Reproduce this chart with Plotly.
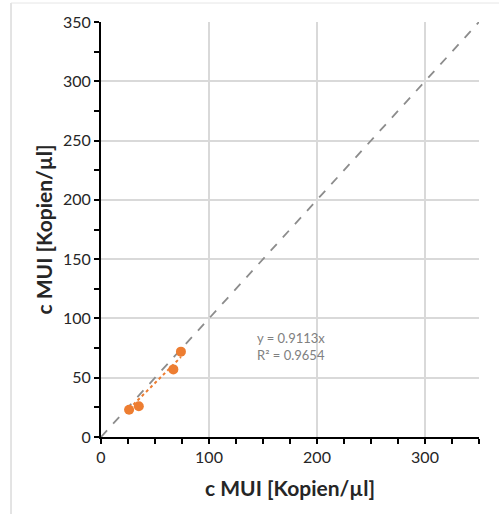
import plotly.graph_objects as go

x_vals = [26, 35, 67, 74]
y_vals = [23, 26, 57, 72]
slope = 0.9113
r2 = 0.9654
ident = [0, 350]

W, H = 499, 514
L, R, T, B = 101, 20, 22, 77

fig = go.Figure()
fig.add_trace(go.Scatter(x=ident, y=ident, mode="lines",
                         line=dict(color="#8c8c8c", width=1.8, dash="dash"), hoverinfo="skip"))
tx = [min(x_vals), max(x_vals)]
fig.add_trace(go.Scatter(x=tx, y=[slope * v for v in tx], mode="lines",
                         line=dict(color="#ED7D31", width=2, dash="dot"), hoverinfo="skip"))
fig.add_trace(go.Scatter(x=x_vals, y=y_vals, mode="markers",
                         marker=dict(color="#ED7D31", size=10)))

fig.add_annotation(x=143, y=76, xref="x", yref="y", xanchor="left", yanchor="middle",
                   text=f"y = {slope}x<br>R² = {r2}", showarrow=False, align="left",
                   font=dict(family="Lato", size=13, color="#808080"))

axis_common = dict(showline=True, linecolor="black", linewidth=2, ticks="outside",
                   ticklen=5, tickwidth=2, tickcolor="black",
                   showgrid=True, gridcolor="#d9d9d9", gridwidth=1.5, zeroline=False,
                   tickfont=dict(family="Lato", size=16, color="#262626"),
                   minor=dict(ticks="outside", ticklen=5, tickwidth=2, tickcolor="black",
                              dtick=25, showgrid=False))

fig.update_layout(
    width=W, height=H, margin=dict(l=L, r=R, t=T, b=B),
    paper_bgcolor="white", plot_bgcolor="white", showlegend=False,
    xaxis=dict(range=[0, 350], dtick=100, tick0=0,
               title=dict(text="c MUI [Kopien/µl]", standoff=16,
                          font=dict(family="Lato", size=21, color="#262626", weight="bold")),
               **axis_common),
    yaxis=dict(range=[0, 350], dtick=50, tick0=0,
               title=dict(text="c MUI [Kopien/µl]", standoff=5,
                          font=dict(family="Lato", size=21, color="#262626", weight="bold")),
               **axis_common),
    shapes=[
        dict(type="line", xref="paper", yref="paper", x0=-90/378, x1=-90/378,
             y0=(437-514)/415, y1=(437-3)/415, line=dict(color="#c8c8c8", width=1)),
        dict(type="line", xref="paper", yref="paper", x0=-90/378, x1=(499-101)/378,
             y0=(437-3)/415, y1=(437-3)/415, line=dict(color="#e6e6e6", width=1)),
    ],
)
fig.update_traces(cliponaxis=False, selector=dict(mode="lines"))
fig.write_html("out.html")
